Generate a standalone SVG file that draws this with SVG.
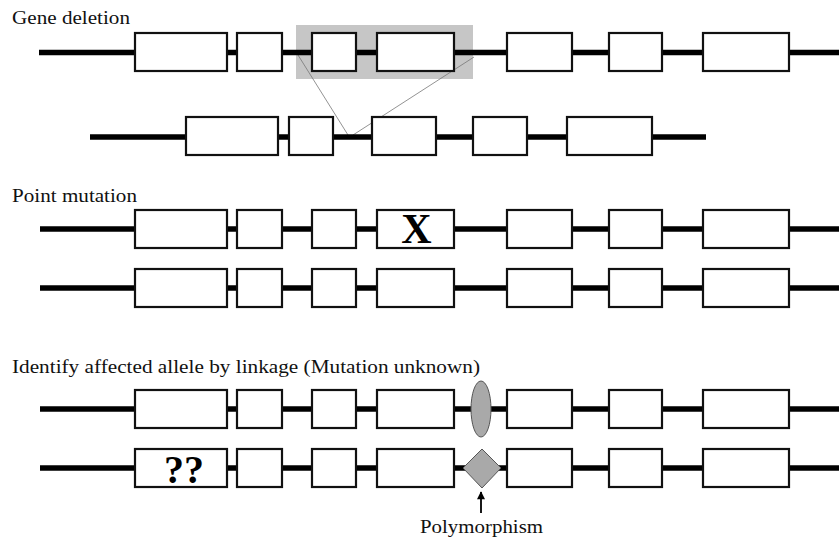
<svg xmlns="http://www.w3.org/2000/svg" width="839" height="539" viewBox="0 0 839 539">
  <defs>
    <style>
      .chrom { stroke: #000; stroke-width: 5.5; fill: none; }
      .exon { fill: #fff; stroke: #111; stroke-width: 2.2; }
      .lbl { font-family: "Liberation Serif", "Times New Roman", serif; font-size: 19px; fill: #111; }
      .big { font-family: "Liberation Serif", "Times New Roman", serif; font-weight: bold; fill: #000; text-anchor: middle; }
      .thin { stroke: #777; stroke-width: 0.8; fill: none; }
      .marker { fill: #a9a9a9; stroke: #555; stroke-width: 1; }
    </style>
    <marker id="arrow" viewBox="0 0 10 10" refX="9" refY="5" markerWidth="9" markerHeight="8" orient="auto" markerUnits="userSpaceOnUse">
      <path d="M0,0 L10,5 L0,10 z" fill="#000"/>
    </marker>
  </defs>
  <rect width="839" height="539" fill="#fff"/>

  <!-- Gene deletion -->
  <text class="lbl" x="12" y="24" textLength="118" lengthAdjust="spacingAndGlyphs">Gene deletion</text>
  <g id="deleted-region">
    <rect x="296" y="25" width="177" height="54" fill="#c6c6c6"/>
  </g>
  <g id="connectors">
    <line class="thin" x1="298" y1="55" x2="348" y2="135"/>
    <line class="thin" x1="353" y1="135" x2="474" y2="57"/>
    <line x1="481" y1="513" x2="481" y2="492" stroke="#000" stroke-width="1.8" marker-end="url(#arrow)"/>
  </g>
  <g id="row1">
    <line class="chrom" x1="39" y1="52.5" x2="839" y2="52.5"/>
    <rect class="exon" x="135" y="33" width="92" height="38"/>
    <rect class="exon" x="237" y="33" width="45" height="38"/>
    <rect class="exon" x="312" y="33" width="44" height="38"/>
    <rect class="exon" x="377" y="33" width="77" height="38"/>
    <rect class="exon" x="507" y="33" width="65" height="38"/>
    <rect class="exon" x="609" y="33" width="53" height="38"/>
    <rect class="exon" x="703" y="33" width="86" height="38"/>
  </g>
  <g id="row2">
    <line class="chrom" x1="90" y1="137" x2="706" y2="137"/>
    <rect class="exon" x="186" y="117" width="92" height="38"/>
    <rect class="exon" x="289" y="117" width="44" height="38"/>
    <rect class="exon" x="372" y="117" width="64" height="38"/>
    <rect class="exon" x="473" y="117" width="54" height="38"/>
    <rect class="exon" x="567" y="117" width="85" height="38"/>
  </g>

  <!-- Point mutation -->
  <text class="lbl" x="12" y="202" textLength="125" lengthAdjust="spacingAndGlyphs">Point mutation</text>
  <g id="row3">
    <line class="chrom" x1="40" y1="229" x2="839" y2="229"/>
    <rect class="exon" x="135" y="210" width="92" height="38"/>
    <rect class="exon" x="237" y="210" width="45" height="38"/>
    <rect class="exon" x="312" y="210" width="44" height="38"/>
    <rect class="exon" x="377" y="210" width="77" height="38"/>
    <rect class="exon" x="507" y="210" width="65" height="38"/>
    <rect class="exon" x="609" y="210" width="53" height="38"/>
    <rect class="exon" x="703" y="210" width="86" height="38"/>
    <text class="big" x="416.5" y="243" font-size="42">X</text>
  </g>
  <g id="row4">
    <line class="chrom" x1="40" y1="288" x2="839" y2="288"/>
    <rect class="exon" x="135" y="269" width="92" height="38"/>
    <rect class="exon" x="237" y="269" width="45" height="38"/>
    <rect class="exon" x="312" y="269" width="44" height="38"/>
    <rect class="exon" x="377" y="269" width="77" height="38"/>
    <rect class="exon" x="507" y="269" width="65" height="38"/>
    <rect class="exon" x="609" y="269" width="53" height="38"/>
    <rect class="exon" x="703" y="269" width="86" height="38"/>
  </g>

  <!-- Linkage -->
  <text class="lbl" x="12" y="373" textLength="468" lengthAdjust="spacingAndGlyphs">Identify affected allele by linkage (Mutation unknown)</text>
  <g id="row5">
    <line class="chrom" x1="40" y1="409" x2="839" y2="409"/>
    <rect class="exon" x="135" y="390" width="92" height="38"/>
    <rect class="exon" x="237" y="390" width="45" height="38"/>
    <rect class="exon" x="312" y="390" width="44" height="38"/>
    <rect class="exon" x="377" y="390" width="77" height="38"/>
    <rect class="exon" x="507" y="390" width="65" height="38"/>
    <rect class="exon" x="609" y="390" width="53" height="38"/>
    <rect class="exon" x="703" y="390" width="86" height="38"/>
    <ellipse class="marker" cx="481" cy="409" rx="10" ry="28"/>
  </g>
  <g id="row6">
    <line class="chrom" x1="40" y1="468" x2="839" y2="468"/>
    <rect class="exon" x="135" y="449" width="92" height="38"/>
    <rect class="exon" x="237" y="449" width="45" height="38"/>
    <rect class="exon" x="312" y="449" width="44" height="38"/>
    <rect class="exon" x="377" y="449" width="77" height="38"/>
    <rect class="exon" x="507" y="449" width="65" height="38"/>
    <rect class="exon" x="609" y="449" width="53" height="38"/>
    <rect class="exon" x="703" y="449" width="86" height="38"/>
    <text class="big" x="184" y="483" font-size="40">??</text>
    <polygon class="marker" points="482,449 501,468 482,488 463,468"/>
  </g>
  <text class="lbl" x="420" y="533" textLength="123" lengthAdjust="spacingAndGlyphs">Polymorphism</text>
</svg>
